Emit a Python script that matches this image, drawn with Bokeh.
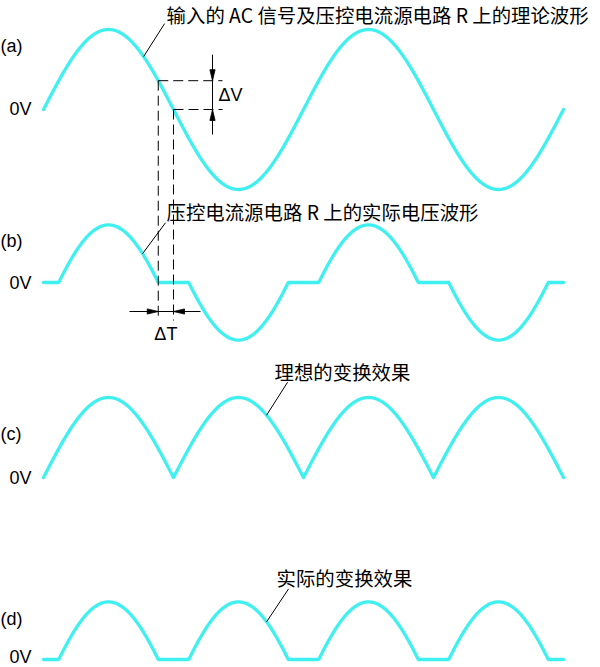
import numpy as np
from bokeh.plotting import figure
from bokeh.models import Range1d
from bokeh.core.properties import value
from bokeh.embed import file_html
from bokeh.resources import INLINE

# ---------------- data (signal in units of the input amplitude, time in cycles)
cycles = 2
input_amplitude = 1.0
dead_zone = 0.36          # ΔV : level below which the real circuit gives 0
actual_peak = 0.72        # peak of the real waveform on R
panel_labels = ["(a)", "(b)", "(c)", "(d)"]
zero_label = "0V"
caption_a = "输入的 AC 信号及压控电流源电路 R 上的理论波形"
caption_b = "压控电流源电路 R 上的实际电压波形"
caption_c = "理想的变换效果"
caption_d = "实际的变换效果"
delta_v_label = "ΔV"
delta_t_label = "ΔT"
leader_times = [0.385, 0.381, 0.858, 0.858]   # where each caption points on its curve

t = np.linspace(0, cycles, 1201)
ideal = input_amplitude * np.sin(2 * np.pi * t)
actual = np.sign(ideal) * np.clip(np.abs(ideal) - dead_zone, 0, None) * actual_peak / (input_amplitude - dead_zone)
ideal_rect = np.abs(ideal)
actual_rect = np.abs(actual)

def wave_ideal(tt):
    return input_amplitude * np.sin(2 * np.pi * tt)

def wave_actual(tt):
    s = wave_ideal(tt)
    return np.sign(s) * np.clip(np.abs(s) - dead_zone, 0, None) * actual_peak / (input_amplitude - dead_zone)

# ---------------- layout (drawing space = reference pixels)
X0, PXC, AMP = 43, 260, 80
BASE = [109, 282, 477, 659]
CYAN = "#40f0f0"
CJK = value("Noto Sans CJK SC")
LAT = value("Liberation Sans")

def X(tt):
    return X0 + PXC * np.asarray(tt)

def Y(panel, v):
    return BASE[panel] - AMP * np.asarray(v)

p = figure(width=600, height=667, x_range=Range1d(0, 600), y_range=Range1d(667, 0),
           output_backend="svg", toolbar_location=None, min_border=0)
p.axis.visible = False
p.grid.visible = False
p.outline_line_color = None

series = [ideal, actual, ideal_rect, actual_rect]
for i, s in enumerate(series):
    p.line(X(t), Y(i, s), line_color=CYAN, line_width=3.3, line_cap="round", line_join="round")

# panel labels and 0V labels
p.text(x=[0] * 4, y=[BASE[0] - 64, BASE[1] - 42, BASE[2] - 44, BASE[3] - 41], text=panel_labels,
       text_font=LAT, text_font_size="18px", text_baseline="middle", text_align="left", text_color="black")
p.text(x=[9] * 4, y=[BASE[0] - 1, BASE[1], BASE[2], BASE[3] - 3], text=[zero_label] * 4,
       text_font=LAT, text_font_size="18px", text_baseline="middle", text_align="left", text_color="black")

# leaders and captions
funcs = [wave_ideal, wave_actual, lambda tt: np.abs(wave_ideal(tt)), lambda tt: np.abs(wave_actual(tt))]
captions = [caption_a, caption_b, caption_c, caption_d]
ends = [(21, -33), (23, -31), (21, -33), (22, -33)]
cap_dx = [1, 0, -14, -13]
cap_dy = [-9, -11, -11, -11]
for i in range(4):
    tt = leader_times[i]
    x1, y1 = float(X(tt)), float(Y(i, funcs[i](tt)))
    x2, y2 = x1 + ends[i][0], y1 + ends[i][1]
    p.line([x1, x2], [y1, y2], line_color="black", line_width=1)
    p.text(x=[x2 + 1 + cap_dx[i]], y=[y2 + cap_dy[i]], text=[captions[i]], text_font=CJK,
           text_font_size="19.4px", text_baseline="middle", text_align="left", text_color="black")

# ΔV / ΔT construction
t_dz = np.arcsin(dead_zone / input_amplitude) / (2 * np.pi)
xl, xz = float(X(0.5 - t_dz)), float(X(0.5))
yu, yz = float(Y(0, dead_zone)), float(Y(0, 0))
x_dv, x_end, y_bot = 212, 222, 320
p.line([xl, x_end], [yu, yu], line_color="black", line_width=1, line_dash="10 5")
p.line([xz, x_end], [yz, yz], line_color="black", line_width=1, line_dash="10 5")
p.line([xl, xl], [yu, y_bot], line_color="black", line_width=1, line_dash="10 5")
p.line([xz, xz], [yz, y_bot], line_color="black", line_width=1, line_dash="10 5")

HL, HW = 11, 2.6   # arrow head length / half width

def head(tip_x, tip_y, dx, dy):
    # triangle with tip at (tip_x, tip_y) pointing along (dx, dy)
    bx, by = tip_x - dx * HL, tip_y - dy * HL
    px, py = -dy * HW, dx * HW
    return [tip_x, bx + px, bx - px], [tip_y, by + py, by - py]

y_dt = 311
heads = [head(x_dv, yu, 0, 1), head(x_dv, yz, 0, -1), head(xl, y_dt, 1, 0), head(xz, y_dt, -1, 0)]
p.patches([h[0] for h in heads], [h[1] for h in heads], fill_color="black", line_color="black", line_width=0.8)

p.line([x_dv, x_dv], [yu - 26, yz + 25], line_color="black", line_width=1)
p.text(x=[x_dv + 6], y=[(yu + yz) / 2], text=[delta_v_label], text_font=LAT, text_font_size="18px",
       text_baseline="middle", text_align="left", text_color="black")

p.line([129, 200], [y_dt, y_dt], line_color="black", line_width=1)
p.text(x=[(xl + xz) / 2], y=[y_dt + 22], text=[delta_t_label], text_font=LAT, text_font_size="18px",
       text_baseline="middle", text_align="center", text_color="black")

open("out.html", "w").write(file_html(p, INLINE))
